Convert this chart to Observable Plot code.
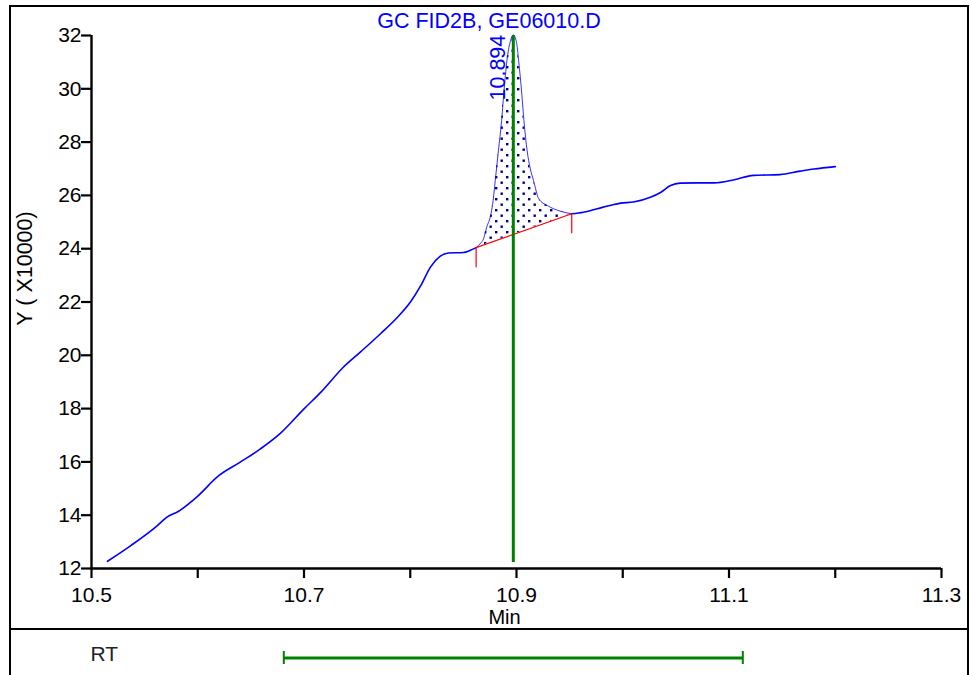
<!DOCTYPE html>
<html>
<head>
<meta charset="utf-8">
<script src="https://cdn.jsdelivr.net/npm/d3@7"></script>
<script src="https://cdn.jsdelivr.net/npm/@observablehq/plot@0.6"></script>
<style>
  html, body { margin: 0; padding: 0; background: #fff; }
  #wrap { position: relative; width: 971px; height: 675px; overflow: hidden; background: #fff;
          font-family: "Liberation Sans", Arial, sans-serif; }
  #frame { position: absolute; left: 9px; top: 5px; width: 960px; height: 700px; box-sizing: border-box;
           border: 2px solid #000; border-bottom: none; }
  #sep { position: absolute; left: 9px; top: 628px; width: 960px; height: 2px; background: #000; }
  #title { position: absolute; left: 9px; top: 11px; width: 960px; text-align: center; color: #0000ff;
           font-size: 21.5px; line-height: 21.5px; white-space: nowrap; }
  #main { position: absolute; left: 0; top: 0; }
  #rt { position: absolute; left: 0; top: 630px; }
</style>
</head>
<body>
<div id="wrap">
  <div id="frame"></div>
  <div id="sep"></div>
  <div id="main"></div>
  <div id="rt"></div>
  <div id="title"></div>
</div>
<script>
// ---- data ----
const titleText = ["GC FID2B, GE06010.D"];
const yAxisTitle = ["Y ( X10000)"];
const xAxisTitle = ["Min"];

const time = [10.515, 10.537, 10.562, 10.571, 10.582, 10.599, 10.620, 10.640, 10.659, 10.678,
  10.700, 10.716, 10.737, 10.753, 10.772, 10.788, 10.800, 10.810, 10.819, 10.828,
  10.836, 10.850, 10.856, 10.862, 10.866, 10.869, 10.872, 10.876, 10.878, 10.880,
  10.883, 10.886, 10.888, 10.891, 10.894, 10.897, 10.900, 10.902, 10.905, 10.907,
  10.910, 10.913, 10.916, 10.921, 10.929, 10.941, 10.952, 10.963, 10.976, 10.988,
  10.998, 11.010, 11.026, 11.036, 11.045, 11.054, 11.070, 11.086, 11.105, 11.123,
  11.148, 11.167, 11.180, 11.200];
const signal = [12.27, 12.86, 13.61, 13.93, 14.15, 14.68, 15.49, 15.99, 16.49, 17.08,
  17.99, 18.62, 19.55, 20.12, 20.81, 21.43, 21.99, 22.62, 23.31, 23.71,
  23.84, 23.86, 23.93, 24.04, 24.20, 24.37, 24.81, 25.31, 25.81, 26.56,
  27.68, 28.81, 29.81, 31.06, 31.75, 32.02, 31.75, 31.06, 29.81, 28.81,
  27.68, 27.00, 26.56, 25.87, 25.62, 25.41, 25.31, 25.37, 25.50, 25.62,
  25.71, 25.75, 25.93, 26.12, 26.37, 26.46, 26.47, 26.47, 26.59, 26.75,
  26.78, 26.91, 26.99, 27.08];

const baselineTime = [10.862, 10.952];
const baselineSignal = [24.04, 25.31];

const rtMarkTime = [10.897];
const rtMarkLabel = ["10.894"];

const rtWindowStart = [10.681];
const rtWindowEnd = [11.113];
const rtRowLabel = ["RT"];

const xTicks = [10.5, 10.6, 10.7, 10.8, 10.9, 11.0, 11.1, 11.2, 11.3];
const xTickLabels = ["10.5", "", "10.7", "", "10.9", "", "11.1", "", "11.3"];
const yTicks = [12, 14, 16, 18, 20, 22, 24, 26, 28, 30, 32];
const yTickLabels = ["12", "14", "16", "18", "20", "22", "24", "26", "28", "30", "32"];

// ---- tables built from the arrays ----
const rows = time.map((t, i) => ({t, v: signal[i]}));
const bStart = baselineTime[0], bEnd = baselineTime[1];
const baseAt = t => baselineSignal[0] + (t - bStart) * (baselineSignal[1] - baselineSignal[0]) / (bEnd - bStart);
const before = rows.filter(d => d.t <= bStart);
const peak = rows.filter(d => d.t >= bStart && d.t <= bEnd).map(d => ({...d, b: baseAt(d.t)}));
const after = rows.filter(d => d.t >= bEnd);
const baseRows = baselineTime.map((t, i) => ({t, v: baselineSignal[i]}));
const rtRows = rtMarkTime.map((t, i) => ({t, label: rtMarkLabel[i]}));
const rtWin = rtWindowStart.map((s, i) => ({start: s, end: rtWindowEnd[i]}));

const xDomain = [xTicks[0], xTicks[xTicks.length - 1]];
const yDomain = [yTicks[0], yTicks[yTicks.length - 1]];

const BLUE = "#0000ff", GREEN = "#008000", RED = "#ff0000", NAVY = "#00007f";
const FONT = "'Liberation Sans', Arial, sans-serif";

document.getElementById("title").textContent = titleText[0];

const main = Plot.plot({
  width: 971,
  height: 628,
  marginLeft: 91,
  marginRight: 30,
  marginTop: 35,
  marginBottom: 60,
  style: {fontFamily: FONT, fontSize: "21px", background: "transparent", color: "#000", overflow: "visible"},
  x: {domain: xDomain},
  y: {domain: yDomain},
  marks: [
    Plot.areaY(peak, {x: "t", y1: "b", y2: "v", fill: "url(#dots)", curve: "monotone-x"}),
    Plot.line(peak, {x: "t", y: "v", stroke: BLUE, strokeWidth: 1, strokeOpacity: 0.8, curve: "monotone-x"}),
    Plot.line(before, {x: "t", y: "v", stroke: BLUE, strokeWidth: 1.6, curve: "monotone-x"}),
    Plot.line(after, {x: "t", y: "v", stroke: BLUE, strokeWidth: 1.6, curve: "monotone-x"}),
    Plot.line(baseRows, {x: "t", y: "v", stroke: RED, strokeWidth: 1.2}),
    Plot.ruleX(baseRows, {x: "t", y1: "v", y2: "v", insetBottom: -20, stroke: RED, strokeWidth: 1.2}),
    Plot.ruleX(rtRows, {x: "t", stroke: GREEN, strokeWidth: 3, insetBottom: 6}),
    Plot.text(rtRows, {x: "t", text: "label", frameAnchor: "top", rotate: -90, textAnchor: "start",
      lineAnchor: "middle", dx: -15, dy: 65, fill: BLUE, fontSize: 21.5}),
    Plot.ruleX([xDomain[0]], {stroke: "#000", strokeWidth: 2.4}),
    Plot.ruleY([yDomain[0]], {stroke: "#000", strokeWidth: 2.4}),
    Plot.axisY({ticks: yTicks, tickFormat: d => yTickLabels[yTicks.indexOf(d)], tickSize: 10, tickPadding: 0,
      label: null, fontSize: 21, stroke: "#000", strokeWidth: 2.2, fill: "#000"}),
    Plot.axisX({ticks: xTicks, tickFormat: d => xTickLabels[xTicks.indexOf(d)], tickSize: 10, tickPadding: 9,
      label: null, fontSize: 21, stroke: "#000", strokeWidth: 2.2, fill: "#000"}),
    Plot.text(yAxisTitle, {text: d => d, frameAnchor: "left", rotate: -90, textAnchor: "middle", lineAnchor: "middle",
      dx: -66, dy: -33.5, fontSize: 21.5, fill: "#000"}),
    Plot.text(xAxisTitle, {text: d => d, frameAnchor: "bottom", textAnchor: "middle", lineAnchor: "middle",
      dx: -12, dy: 48.6, fontSize: 20, fill: "#000"})
  ]
});

// dotted hatch pattern for the integrated peak
const defs = d3.select(main).insert("defs", ":first-child");
const pat = defs.append("pattern").attr("id", "dots").attr("patternUnits", "userSpaceOnUse")
  .attr("width", 11).attr("height", 11);
pat.append("rect").attr("x", 0).attr("y", 0).attr("width", 2.4).attr("height", 2.4).attr("fill", NAVY);
pat.append("rect").attr("x", 5.5).attr("y", 5.5).attr("width", 2.4).attr("height", 2.4).attr("fill", NAVY);

document.getElementById("main").appendChild(main);

const rtPlot = Plot.plot({
  width: 971,
  height: 45,
  marginLeft: 91,
  marginRight: 30,
  marginTop: 21,
  marginBottom: 11,
  style: {fontFamily: FONT, fontSize: "21px", background: "transparent", overflow: "visible"},
  x: {domain: xDomain, axis: null},
  marks: [
    Plot.ruleY(rtWin, {x1: "start", x2: "end", y: null, stroke: GREEN, strokeWidth: 3}),
    Plot.ruleX(rtWin, {x: "start", stroke: GREEN, strokeWidth: 2}),
    Plot.ruleX(rtWin, {x: "end", stroke: GREEN, strokeWidth: 2}),
    Plot.text(rtRowLabel, {text: d => d, frameAnchor: "left", textAnchor: "start", lineAnchor: "middle",
      dx: -1, dy: -3.4, fontSize: 21, fill: "#222"})
  ]
});
document.getElementById("rt").appendChild(rtPlot);
</script>
</body>
</html>
